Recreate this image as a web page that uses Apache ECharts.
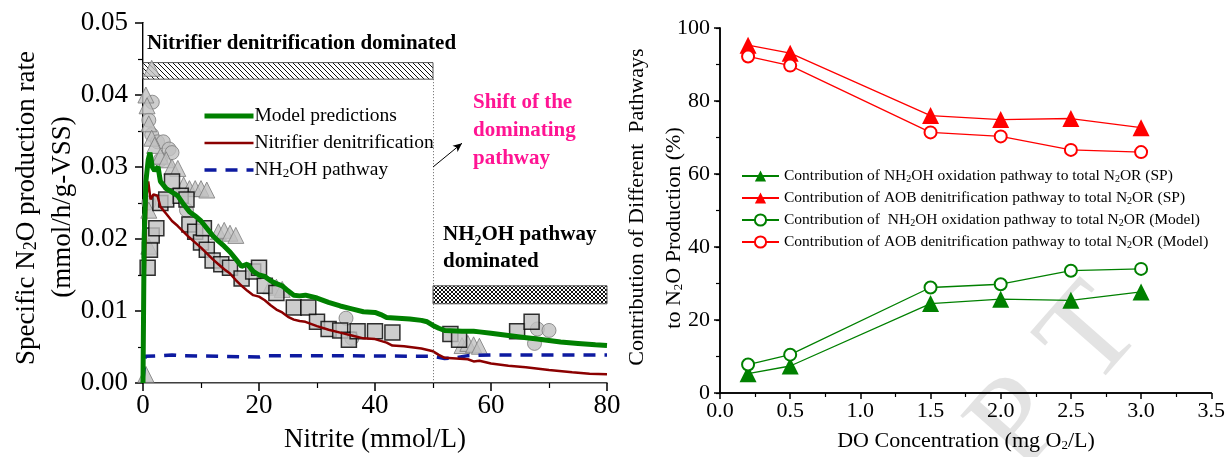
<!DOCTYPE html>
<html>
<head>
<meta charset="utf-8">
<script src="https://cdn.jsdelivr.net/npm/echarts@6/dist/echarts.min.js"></script>
<style>
html,body{margin:0;padding:0;background:#fff;}
#c{width:1228px;height:457px;}
</style>
</head>
<body>
<div id="c"></div>
<script>
// ---------- Left panel data ----------
const modelPred = [[0,0],[0.2,0.02],[0.5,0.028],[0.9,0.031],[1.2,0.032],[1.6,0.030],[2,0.0295],[2.6,0.030],[3,0.028],[4,0.027],[5,0.0265],[6,0.026],[7,0.0248],[8,0.0238],[9,0.0232],[10,0.0225],[11,0.0215],[12,0.0205],[13,0.0197],[14,0.019],[15,0.0182],[16,0.0172],[17,0.0162],[18,0.0165],[19,0.0155],[20,0.015],[21,0.0148],[22,0.0142],[23,0.0138],[24,0.0135],[25,0.0128],[26,0.0122],[27,0.0121],[28,0.0122],[30,0.0118],[32,0.0112],[34,0.0107],[36,0.0103],[38,0.0099],[40,0.0098],[41,0.0095],[42,0.0091],[44,0.009],[46,0.0089],[48,0.0087],[49,0.0085],[50,0.008],[51,0.0076],[52,0.0073],[55,0.0072],[57,0.0072],[58,0.0071],[60,0.0069],[62,0.0067],[65,0.0064],[68,0.0061],[70,0.0059],[72,0.0057],[75,0.0055],[78,0.0053],[80,0.0052]];
const nitrDenit = [[0,0],[0.3,0.015],[0.6,0.026],[0.9,0.028],[1.3,0.0255],[1.8,0.0262],[2.5,0.026],[3,0.0245],[4,0.0235],[5,0.0225],[6,0.0218],[7,0.021],[8,0.0202],[9,0.0195],[10,0.0188],[11,0.018],[12,0.0172],[13,0.0165],[14,0.0158],[15,0.0152],[16,0.0143],[17,0.0135],[18,0.0128],[19,0.0122],[20,0.012],[21,0.0115],[22,0.0108],[23,0.0102],[24,0.0098],[25,0.0092],[26,0.0088],[27,0.0086],[28,0.0085],[30,0.0079],[32,0.0074],[34,0.007],[36,0.0066],[38,0.0062],[40,0.0061],[42,0.0056],[43,0.0052],[45,0.0051],[48,0.0048],[50,0.0044],[51,0.0039],[52,0.0035],[54,0.0034],[56,0.0033],[57,0.003],[58,0.0031],[60,0.0027],[63,0.0024],[66,0.0022],[70,0.0018],[74,0.0015],[77,0.0013],[80,0.0012]];
const nh2ohPath = [[0,0.0005],[0.2,0.002],[0.4,0.0037],[3,0.0038],[5,0.0039],[7,0.0038],[20,0.0036],[21,0.0038],[30,0.0038],[50,0.0037],[52,0.0034],[54,0.0035],[56,0.0038],[60,0.0039],[80,0.0039]];
const obsSquares = [[0.8,0.016],[1.2,0.0185],[1.5,0.0205],[2.3,0.0215],[3,0.025],[4,0.0255],[5,0.028],[6.5,0.026],[7.5,0.0255],[8,0.022],[9,0.021],[10,0.0195],[10.5,0.0215],[11,0.0185],[12,0.017],[13.5,0.0165],[15,0.016],[17,0.0145],[19,0.0155],[20,0.016],[21,0.0135],[23,0.0125],[26,0.0105],[28.5,0.0105],[30,0.0085],[32,0.0075],[34,0.0073],[35.5,0.006],[37,0.0072],[40,0.0072],[43,0.007],[53,0.0068],[54.5,0.006],[64.5,0.0072],[67,0.0085]];
const obsCircles = [[1,0.0365],[1.6,0.039],[1.5,0.0345],[2.5,0.0335],[3.5,0.0335],[4.5,0.0325],[5,0.032],[3,0.031],[7.5,0.024],[1,0.025],[35,0.009],[36,0.0062],[67.5,0.0055],[68,0.0075],[70,0.0073]];
const obsTriangles = [[0.5,0.040],[0.7,0.0385],[1,0.036],[1.5,0.034],[2,0.033],[3,0.0315],[4,0.031],[5,0.030],[6,0.0298],[7,0.0275],[8,0.027],[9,0.027],[10,0.027],[11,0.0268],[13,0.021],[14,0.0212],[15,0.0208],[16,0.0205],[22,0.0135],[23,0.0133],[24,0.013],[55,0.0052],[56,0.0055],[57,0.0053],[58,0.0051],[0.5,0.0012],[1.5,0.0437],[1,0.024],[1,0.019]];
const ndBand = [0, 50, 0.0422, 0.0445];   // x from, x to, y from, y to
const nhBand = [50, 80, 0.011, 0.0135];
const shiftX = 50;
const arrowFrom = [50, 0.030], arrowTo = [55, 0.0333];
const leftXTicks = {min:0, max:80, interval:20};
const leftYTicks = {min:0, max:0.05, interval:0.01};

// ---------- Right panel data ----------
const doConc = [0.2, 0.5, 1.5, 2.0, 2.5, 3.0];
const spNH2OH = [5.3, 7.4, 24.5, 25.7, 25.4, 27.7];
const spAOB = [95.3, 93.1, 76.0, 74.9, 75.2, 72.7];
const mdNH2OH = [7.8, 10.5, 28.9, 29.8, 33.5, 34.0];
const mdAOB = [92.2, 89.7, 71.4, 70.3, 66.6, 66.0];
const rightXTicks = {min:0, max:3.5, interval:0.5};
const rightYTicks = {min:0, max:100, interval:20};

const names = {
  model:'Model predictions', nd:'Nitrifier denitrification', nh:'NH2OH pathway',
  r1:'Contribution of NH2OH oxidation pathway to total N2OR (SP)',
  r2:'Contribution of AOB denitrification pathway to total N2OR (SP)',
  r3:'Contribution of  NH2OH oxidation pathway to total N2OR (Model)',
  r4:'Contribution of AOB denitrification pathway to total N2OR (Model)'
};

const FF = '"Liberation Serif","Times New Roman",serif';
const GREEN = '#008000', DRED = '#8b0000', NAVY = '#0d1aa0', RED = '#ff0000', GREY = '#c0c0c0';

function pat(size, cross){
  const c = document.createElement('canvas'); c.width = c.height = size;
  const g = c.getContext('2d');
  g.fillStyle = '#fff'; g.fillRect(0,0,size,size);
  g.strokeStyle = '#111'; g.lineWidth = 1;
  g.beginPath();
  g.moveTo(0,0); g.lineTo(size,size);
  g.moveTo(size-1,-1); g.lineTo(size+1,1);
  g.moveTo(-1,size-1); g.lineTo(1,size+1);
  if (cross){
    g.moveTo(size,0); g.lineTo(0,size);
    g.moveTo(1,-1); g.lineTo(-1,1);
    g.moveTo(size+1,size-1); g.lineTo(size-1,size+1);
  }
  g.stroke();
  return c;
}

const chart = echarts.init(document.getElementById('c'), null, {renderer:'canvas'});
const pairs = a => doConc.map((x,i)=>[x,a[i]]);
const subR = {fontFamily:FF, fontSize:10, verticalAlign:'bottom'};

const lbl = (fs) => ({fontFamily:FF, fontSize:fs, color:'#000'});
chart.setOption({
  animation:false,
  grid:[
    {left:143, top:23, width:464, height:360},
    {left:720, top:28, width:492, height:365}
  ],
  xAxis:[
    {gridIndex:0, type:'value', ...leftXTicks, axisLine:{lineStyle:{color:'#000', width:1.5}},
     axisTick:{length:8, lineStyle:{color:'#000', width:1.5}}, minorTick:{show:true, splitNumber:2, length:5, lineStyle:{color:'#000', width:1.2}},
     axisLabel:{...lbl(27), margin:9}, splitLine:{show:false}},
    {gridIndex:0, type:'value', position:'top', ...leftXTicks, axisLine:{lineStyle:{color:'#999', width:1}}, axisTick:{show:false}, axisLabel:{show:false}, splitLine:{show:false}},
    {gridIndex:1, type:'value', ...rightXTicks, axisLine:{lineStyle:{color:'#000', width:1.5}},
     axisTick:{length:6, lineStyle:{color:'#000', width:1.5}}, minorTick:{show:true, splitNumber:2, length:4, lineStyle:{color:'#000', width:1.2}},
     axisLabel:{...lbl(22), margin:7, formatter:v=>v.toFixed(1)}, splitLine:{show:false}},
    {gridIndex:1, type:'value', position:'top', ...rightXTicks, axisLine:{lineStyle:{color:'#000', width:1.5}}, axisTick:{show:false}, axisLabel:{show:false}, splitLine:{show:false}}
  ],
  yAxis:[
    {gridIndex:0, type:'value', ...leftYTicks, axisLine:{show:true, lineStyle:{color:'#000', width:2}},
     axisTick:{show:true, length:8, lineStyle:{color:'#000', width:1.5}}, minorTick:{show:true, splitNumber:2, length:5, lineStyle:{color:'#000', width:1.2}},
     axisLabel:{...lbl(27), margin:15, formatter:v=>v.toFixed(2)}, splitLine:{show:false}},
    {gridIndex:0, type:'value', position:'right', ...leftYTicks, axisLine:{show:true, lineStyle:{color:'#999', width:1}}, axisTick:{show:false}, axisLabel:{show:false}, splitLine:{show:false}},
    {gridIndex:1, type:'value', ...rightYTicks, axisLine:{show:true, lineStyle:{color:'#000', width:1.5}},
     axisTick:{show:true, length:6, lineStyle:{color:'#000', width:1.5}}, minorTick:{show:true, splitNumber:2, length:4, lineStyle:{color:'#000', width:1.2}},
     axisLabel:{...lbl(22), margin:10}, splitLine:{show:false}},
    {gridIndex:1, type:'value', position:'right', ...rightYTicks, axisLine:{show:true, lineStyle:{color:'#000', width:1.5}},
     axisTick:{show:true, inside:true, length:4, lineStyle:{color:'#000', width:1.2}}, minorTick:{show:true, splitNumber:2, length:3, lineStyle:{color:'#000', width:1}}, axisLabel:{show:false}, splitLine:{show:false}}
  ],
  legend:[
    {data:[names.model, names.nd, names.nh], lineStyle:{width:'inherit'}, itemStyle:{color:'rgba(0,0,0,0)', borderWidth:0, opacity:0},
     orient:'vertical', left:197, top:101, itemWidth:49, itemHeight:14, itemGap:7,
     textStyle:{fontFamily:FF, fontSize:19.5, color:'#000', padding:[0,0,0,-4], rich:{s:{fontFamily:FF, fontSize:13, verticalAlign:'bottom'}}},
     formatter:n=>n.replace('NH2OH','NH{s|2}OH')},
    {data:[names.r1, names.r2, names.r3, names.r4], orient:'vertical', left:736, top:163, itemWidth:37, itemHeight:14, itemGap:6,
     textStyle:{fontFamily:FF, fontSize:15.5, color:'#000', rich:{s:subR}},
     formatter:n=>n.replace('NH2OH','NH{s|2}OH').replace('N2OR','N{s|2}OR')}
  ],
  series:[
    {type:'scatter', name:'obsCircles', xAxisIndex:0, yAxisIndex:0, data:obsCircles, symbol:'circle', symbolSize:14, z:2,
     itemStyle:{color:GREY, borderColor:'#7a7a7a', borderWidth:1}},
    {type:'scatter', name:'obsTriangles', xAxisIndex:0, yAxisIndex:0, data:obsTriangles, symbol:'triangle', symbolSize:16, z:2,
     itemStyle:{color:GREY, borderColor:'#7a7a7a', borderWidth:1}},
    {type:'scatter', name:'obsSquares', xAxisIndex:0, yAxisIndex:0, data:obsSquares, symbol:'rect', symbolSize:15, z:2,
     itemStyle:{color:GREY, borderColor:'#000', borderWidth:1.5}},
    {type:'line', name:names.nh, xAxisIndex:0, yAxisIndex:0, data:nh2ohPath, symbol:'none', z:3,
     lineStyle:{color:NAVY, width:3.5, type:[12,9]}, itemStyle:{color:NAVY}},
    {type:'line', name:names.nd, xAxisIndex:0, yAxisIndex:0, data:nitrDenit, symbol:'none', z:4,
     lineStyle:{color:DRED, width:2.5}, itemStyle:{color:DRED}},
    {type:'line', name:names.model, xAxisIndex:0, yAxisIndex:0, data:modelPred, symbol:'none', z:5,
     lineStyle:{color:GREEN, width:5}, itemStyle:{color:GREEN}},
    {type:'line', name:'annot', xAxisIndex:0, yAxisIndex:0, data:[], z:1, silent:true,
     markArea:{silent:true, itemStyle:{borderColor:'#555', borderWidth:1}, data:[
       [{coord:[ndBand[0], ndBand[2]], itemStyle:{color:{image:pat(5,false), repeat:'repeat'}, borderColor:'#555', borderWidth:1}}, {coord:[ndBand[1], ndBand[3]]}],
       [{coord:[nhBand[0], nhBand[2]], itemStyle:{color:{image:pat(4,true), repeat:'repeat'}, borderColor:'#555', borderWidth:1}}, {coord:[nhBand[1], nhBand[3]]}]
     ]},
     markLine:{silent:true, symbol:['none','none'], label:{show:false}, data:[
       [{coord:[shiftX, ndBand[2]], lineStyle:{color:'#666', width:1, type:[1,2]}}, {coord:[shiftX, 0]}],
       [{coord:arrowFrom, symbol:'none', lineStyle:{color:'#000', width:1, type:'solid'}}, {coord:arrowTo, symbol:'arrow', symbolSize:[6,9]}]
     ]}},
    {type:'line', name:names.r1, xAxisIndex:2, yAxisIndex:2, data:pairs(spNH2OH), symbol:'triangle', symbolSize:17,
     lineStyle:{color:GREEN, width:1.3}, itemStyle:{color:GREEN}},
    {type:'line', name:names.r2, xAxisIndex:2, yAxisIndex:2, data:pairs(spAOB), symbol:'triangle', symbolSize:17,
     lineStyle:{color:RED, width:1.3}, itemStyle:{color:RED}},
    {type:'line', name:names.r3, xAxisIndex:2, yAxisIndex:2, data:pairs(mdNH2OH), symbol:'emptyCircle', symbolSize:12,
     lineStyle:{color:GREEN, width:1.3}, itemStyle:{color:GREEN, borderWidth:1.3}},
    {type:'line', name:names.r4, xAxisIndex:2, yAxisIndex:2, data:pairs(mdAOB), symbol:'emptyCircle', symbolSize:12,
     lineStyle:{color:RED, width:1.3}, itemStyle:{color:RED, borderWidth:1.3}}
  ],
  graphic:[
    {type:'text', x:1020, y:425, rotation:0.85, z:0, silent:true, style:{text:'P', fontFamily:FF, fontSize:130, fill:'#e3e3e3', align:'center', verticalAlign:'middle'}},
    {type:'text', x:1093, y:338, rotation:0.85, z:0, silent:true, style:{text:'T', fontFamily:FF, fontSize:130, fill:'#e3e3e3', align:'center', verticalAlign:'middle'}},
    {type:'text', x:27, y:208, rotation:Math.PI/2, style:{text:'Specific N{s|2}O production rate', fontFamily:FF, fontSize:27, fill:'#000', align:'center', verticalAlign:'middle',
      rich:{s:{fontFamily:FF, fontSize:18, verticalAlign:'bottom'}}}},
    {type:'text', x:63, y:207, rotation:Math.PI/2, style:{text:'(mmol/h/g-VSS)', fontFamily:FF, fontSize:27, fill:'#000', align:'center', verticalAlign:'middle'}},
    {type:'text', x:375, y:440, style:{text:'Nitrite (mmol/L)', fontFamily:FF, fontSize:27, fill:'#000', align:'center', verticalAlign:'middle'}},
    {type:'text', x:147, y:44, style:{text:'Nitrifier denitrification dominated', fontFamily:FF, fontWeight:'bold', fontSize:21, fill:'#000', align:'left', verticalAlign:'middle'}},
    {type:'text', x:473, y:131, style:{text:'Shift of the\ndominating\npathway', fontFamily:FF, fontWeight:'bold', fontSize:21, lineHeight:28, fill:'#ff1493', align:'left', verticalAlign:'middle'}},
    {type:'text', x:443, y:248, style:{text:'NH{s|2}OH pathway\ndominated', fontFamily:FF, fontWeight:'bold', fontSize:21, lineHeight:27, fill:'#000', align:'left', verticalAlign:'middle',
      rich:{s:{fontFamily:FF, fontWeight:'bold', fontSize:14, verticalAlign:'bottom', lineHeight:27}}}},
    {type:'text', x:637, y:207, rotation:Math.PI/2, style:{text:'Contribution of Different  Pathways', fontFamily:FF, fontSize:22, fill:'#000', align:'center', verticalAlign:'middle'}},
    {type:'text', x:674, y:228, rotation:Math.PI/2, style:{text:'to N{s|2}O Production (%)', fontFamily:FF, fontSize:22, fill:'#000', align:'center', verticalAlign:'middle',
      rich:{s:{fontFamily:FF, fontSize:13, verticalAlign:'bottom'}}}},
    {type:'text', x:966, y:441, style:{text:'DO Concentration (mg O{s|2}/L)', fontFamily:FF, fontSize:22, fill:'#000', align:'center', verticalAlign:'middle',
      rich:{s:{fontFamily:FF, fontSize:13, verticalAlign:'bottom'}}}}
  ]
});
</script>
</body>
</html>
